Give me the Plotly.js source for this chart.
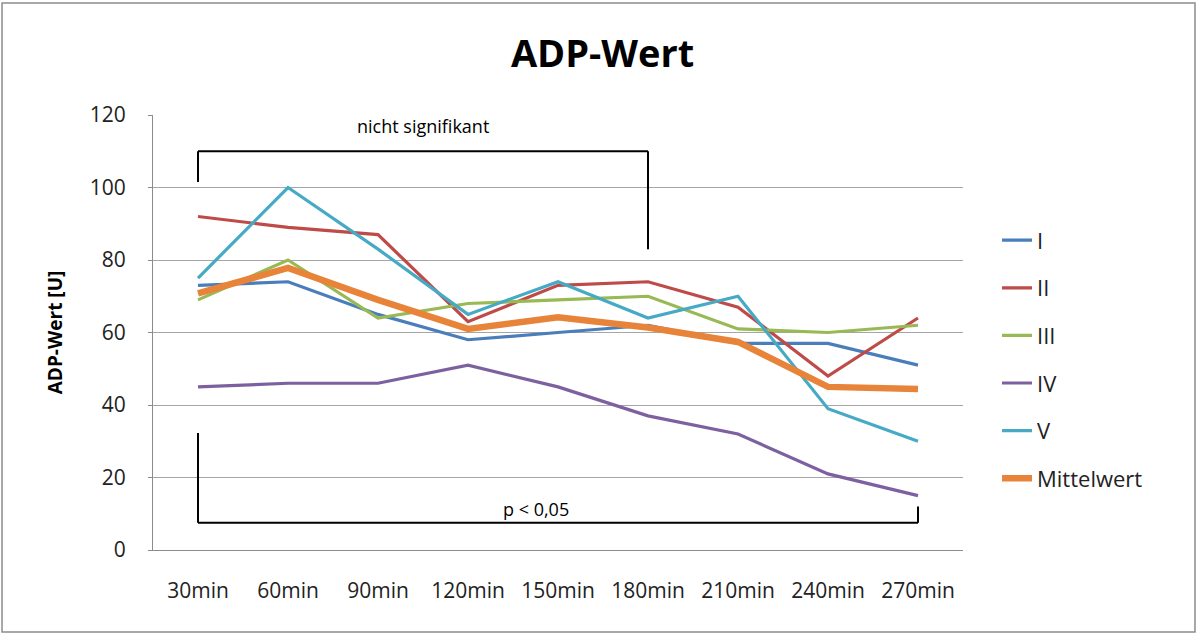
<!DOCTYPE html>
<html>
<head>
<meta charset="utf-8">
<script src="https://cdn.plot.ly/plotly-3.0.1.min.js"></script>
<style>html,body{margin:0;padding:0;background:#fff;}#chart{width:1198px;height:635px;}</style>
</head>
<body>
<div id="chart"></div>
<script>
const categories = ["30min","60min","90min","120min","150min","180min","210min","240min","270min"];
const seriesI   = [73, 74, 65, 58, 60, 62, 57, 57, 51];
const seriesII  = [92, 89, 87, 63, 73, 74, 67, 48, 64];
const seriesIII = [69, 80, 64, 68, 69, 70, 61, 60, 62];
const seriesIV  = [45, 46, 46, 51, 45, 37, 32, 21, 15];
const seriesV   = [75, 100, 83, 65, 74, 64, 70, 39, 30];
const mittelwert = [70.8, 77.8, 69, 61, 64.2, 61.4, 57.4, 45, 44.4];
const seriesNames = ["I","II","III","IV","V","Mittelwert"];
const seriesColors = ["#4A7EBB","#BE4B48","#98B954","#7D60A0","#46AAC5","#E8833A"];
const seriesWidths = [3.2,3.2,3.2,3.2,3.2,6.5];
const allSeries = [seriesI, seriesII, seriesIII, seriesIV, seriesV, mittelwert];

// significance brackets (category index / y value)
const bracketTop = {x0: 0, x1: 5, yTop: 110, yLeft: 101.5, yRight: 83, label: "nicht signifikant", labelX: 2.5, labelY: 113};
const bracketBottom = {x0: 0, x1: 8, yBottom: 7.5, yLeft: 32.3, yRight: 12, label: "p < 0,05", labelX: 3.76, labelY: 11.4};

const FONT = "Open Sans, Lato, sans-serif";

const traces = allSeries.map((ys, i) => ({
  type: "scatter", mode: "lines",
  x: categories, y: ys, name: seriesNames[i],
  legendgroup: "g" + i,
  line: {color: seriesColors[i], width: seriesWidths[i]}
}));

const blk = {color: "#000", width: 2};
function seg(x0, y0, x1, y1) {
  return {type: "line", xref: "x", yref: "y", x0: x0, y0: y0, x1: x1, y1: y1, line: blk, layer: "above"};
}
const shapes = [
  seg(bracketTop.x0, bracketTop.yLeft, bracketTop.x0, bracketTop.yTop),
  seg(bracketTop.x0, bracketTop.yTop, bracketTop.x1, bracketTop.yTop),
  seg(bracketTop.x1, bracketTop.yTop, bracketTop.x1, bracketTop.yRight),
  seg(bracketBottom.x0, bracketBottom.yLeft, bracketBottom.x0, bracketBottom.yBottom),
  seg(bracketBottom.x0, bracketBottom.yBottom, bracketBottom.x1, bracketBottom.yBottom),
  seg(bracketBottom.x1, bracketBottom.yBottom, bracketBottom.x1, bracketBottom.yRight),
  {type: "rect", xref: "paper", yref: "paper", x0: -0.1864, x1: 1.2864, y0: -0.1885, y1: 1.2575,
   line: {color: "#8C8C8C", width: 1.5}, fillcolor: "rgba(0,0,0,0)"}
];

const layout = {
  width: 1198, height: 635,
  margin: {l: 153, r: 235, t: 115, b: 85},
  paper_bgcolor: "#fff", plot_bgcolor: "#fff",
  font: {family: FONT, color: "#222", size: 21},
  title: {text: "<b>ADP-Wert</b>", font: {family: FONT, size: 38, color: "#000"},
          x: 0.503, xanchor: "center", y: 0.915, yanchor: "middle"},
  showlegend: true,
  legend: {x: 1.042, xanchor: "left", y: 0.76, yanchor: "top",
           traceorder: "grouped", tracegroupgap: 16,
           font: {family: FONT, size: 22, color: "#222"}, bgcolor: "rgba(0,0,0,0)"},
  xaxis: {type: "category", range: [-0.5, 8.5], showgrid: false, zeroline: false,
          showline: true, linecolor: "#8C8C8C", linewidth: 1,
          ticks: "", tickfont: {family: FONT, size: 21, color: "#222"}, ticklabelstandoff: 22},
  yaxis: {range: [0, 120], dtick: 20, showgrid: true, gridcolor: "#A6A6A6", gridwidth: 1,
          zeroline: false, showline: true, linecolor: "#8C8C8C", linewidth: 1,
          ticks: "outside", ticklen: 4, tickcolor: "#8C8C8C",
          tickfont: {family: FONT, size: 21, color: "#222"}, ticklabelstandoff: 18,
          title: {text: "<b>ADP-Wert [U]</b>", font: {family: FONT, size: 19, color: "#000"}, standoff: 22}},
  shapes: shapes,
  annotations: [
    {xref: "x", yref: "y", x: bracketTop.labelX, y: bracketTop.labelY, text: bracketTop.label,
     showarrow: false, font: {family: FONT, size: 18, color: "#000"}, yanchor: "bottom"},
    {xref: "x", yref: "y", x: bracketBottom.labelX, y: bracketBottom.labelY, text: bracketBottom.label,
     showarrow: false, font: {family: FONT, size: 18, color: "#000"}, yanchor: "middle"}
  ]
};

Plotly.newPlot("chart", traces, layout, {displayModeBar: false, staticPlot: true});
</script>
</body>
</html>
